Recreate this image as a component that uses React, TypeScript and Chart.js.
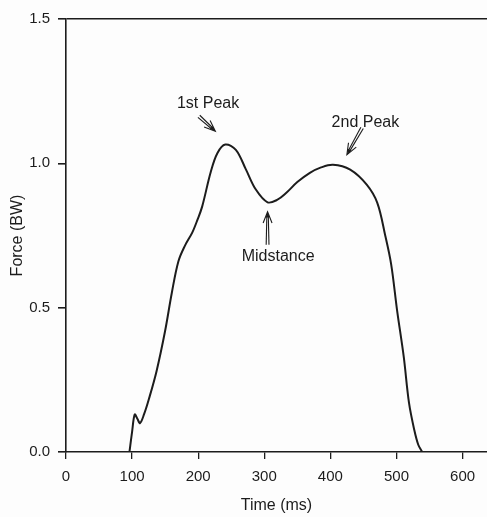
import React, { useEffect, useRef } from "react";
import { Chart, registerables } from "chart.js";

Chart.register(...registerables);

// Ground reaction force curve (time in ms, force in body weights)
const timeMs = [
  96, 100, 104, 108, 112, 118, 125, 137, 150, 160, 170, 180, 191, 199, 206, 219, 229,
  241, 257, 272, 287, 305, 320, 333, 350, 369, 385, 404, 430, 455, 471, 483, 492,
  501, 511, 519, 527, 533, 539,
];
const forceBW = [
  0, 0.07, 0.13, 0.115, 0.1, 0.13, 0.18, 0.28, 0.42, 0.55, 0.66, 0.715, 0.76, 0.805, 0.85,
  0.97, 1.035, 1.065, 1.047, 0.98, 0.91, 0.865, 0.874, 0.897, 0.935, 0.967, 0.985,
  0.995, 0.978, 0.926, 0.863, 0.75, 0.65, 0.49, 0.33, 0.17, 0.076, 0.025, 0,
];

const xTicks = [0, 100, 200, 300, 400, 500, 600];
const yTicks = [0, 0.5, 1.0, 1.5];

// Annotations: label text and positions in data units
const noteTexts = ["1st Peak", "2nd Peak", "Midstance"];
const noteX = [215, 453, 321];
const noteY = [1.207, 1.14, 0.677];
// Arrows: tail -> tip in data units
const arrowTailX = [201, 448, 305];
const arrowTailY = [1.163, 1.123, 0.718];
const arrowTipX = [226, 425, 305];
const arrowTipY = [1.111, 1.03, 0.832];

const INK = "#1c1c1c";
const FONT = "'Liberation Sans', Arial, sans-serif";

const annotationPlugin = {
  id: "notes",
  afterDatasetsDraw(chart: any) {
    const { ctx, scales } = chart;
    const xs = scales.x;
    const ys = scales.y;
    ctx.save();
    ctx.fillStyle = INK;
    ctx.strokeStyle = INK;
    ctx.font = `16px ${FONT}`;
    ctx.textAlign = "center";
    ctx.textBaseline = "middle";
    noteTexts.forEach((t, i) => {
      ctx.fillText(t, xs.getPixelForValue(noteX[i]), ys.getPixelForValue(noteY[i]));
    });
    ctx.lineWidth = 1.1;
    arrowTailX.forEach((_, i) => {
      const x0 = xs.getPixelForValue(arrowTailX[i]);
      const y0 = ys.getPixelForValue(arrowTailY[i]);
      const x1 = xs.getPixelForValue(arrowTipX[i]);
      const y1 = ys.getPixelForValue(arrowTipY[i]);
      const ang = Math.atan2(y1 - y0, x1 - x0);
      const headLen = 12;
      const spread = 0.38;
      ctx.beginPath();
      ctx.moveTo(x1 - headLen * Math.cos(ang - spread), y1 - headLen * Math.sin(ang - spread));
      ctx.lineTo(x1, y1);
      ctx.lineTo(x1 - headLen * Math.cos(ang + spread), y1 - headLen * Math.sin(ang + spread));
      ctx.stroke();
      const nx = -Math.sin(ang);
      const ny = Math.cos(ang);
      [-1.4, 1.4].forEach((o) => {
        ctx.beginPath();
        ctx.moveTo(x0 + nx * o, y0 + ny * o);
        ctx.lineTo(x1 - 3 * Math.cos(ang) + nx * o * 0.5, y1 - 3 * Math.sin(ang) + ny * o * 0.5);
        ctx.stroke();
      });
      ctx.beginPath();
      ctx.moveTo(x1, y1);
      ctx.lineTo(x1 - 6 * Math.cos(ang - 0.3), y1 - 6 * Math.sin(ang - 0.3));
      ctx.lineTo(x1 - 6 * Math.cos(ang + 0.3), y1 - 6 * Math.sin(ang + 0.3));
      ctx.closePath();
      ctx.fill();
    });
    ctx.restore();
  },
};

export default function App() {
  const ref = useRef<HTMLCanvasElement | null>(null);

  useEffect(() => {
    if (!ref.current) return;
    const chart = new Chart(ref.current, {
      type: "line",
      data: {
        datasets: [
          {
            data: timeMs.map((t, i) => ({ x: t, y: forceBW[i] })),
            borderColor: INK,
            borderWidth: 2,
            pointRadius: 0,
            tension: 0.35,
            fill: false,
          },
        ],
      },
      options: {
        animation: false,
        responsive: false,
        maintainAspectRatio: false,
        layout: { padding: { top: 19, left: 0, right: 0, bottom: 0 } },
        plugins: { legend: { display: false }, tooltip: { enabled: false } },
        scales: {
          x: {
            type: "linear",
            min: 0,
            max: 637,
            afterBuildTicks: (scale: any) => {
              scale.ticks = xTicks.map((v) => ({ value: v }));
            },
            afterFit: (scale: any) => {
              scale.height = 65;
            },
            ticks: {
              color: INK,
              font: { family: FONT, size: 15 },
              padding: 9,
              maxRotation: 0,
              callback: (v: any) => String(v),
            },
            grid: {
              drawOnChartArea: false,
              color: INK,
              tickLength: 7,
              lineWidth: 1.3,
            },
            border: { display: true, color: INK, width: 1.6 },
            title: {
              display: true,
              text: "Time (ms)",
              color: INK,
              font: { family: FONT, size: 16 },
              padding: { top: 0, bottom: 2 },
            },
          },
          y: {
            type: "linear",
            min: 0,
            max: 1.5,
            afterBuildTicks: (scale: any) => {
              scale.ticks = yTicks.map((v) => ({ value: v }));
            },
            afterFit: (scale: any) => {
              scale.width = 66;
            },
            ticks: {
              color: INK,
              font: { family: FONT, size: 15 },
              padding: 8,
              callback: (v: any) => Number(v).toFixed(1),
            },
            grid: {
              drawOnChartArea: true,
              color: (c: any) => (c.tick && c.tick.value === 1.5 ? INK : "rgba(0,0,0,0)"),
              lineWidth: 1.6,
              tickColor: INK,
              tickLength: 8,
            },
            border: { display: true, color: INK, width: 1.6 },
            title: {
              display: true,
              text: "Force (BW)",
              color: INK,
              font: { family: FONT, size: 16 },
              padding: { top: 8, bottom: 0 },
            },
          },
        },
      },
      plugins: [annotationPlugin],
    } as any);
    return () => chart.destroy();
  }, []);

  return (
    <div style={{ position: "absolute", left: 0, top: 0, width: 487, height: 517, background: "#fdfdfd" }}>
      <canvas ref={ref} width={487} height={517} style={{ display: "block" }} />
    </div>
  );
}
